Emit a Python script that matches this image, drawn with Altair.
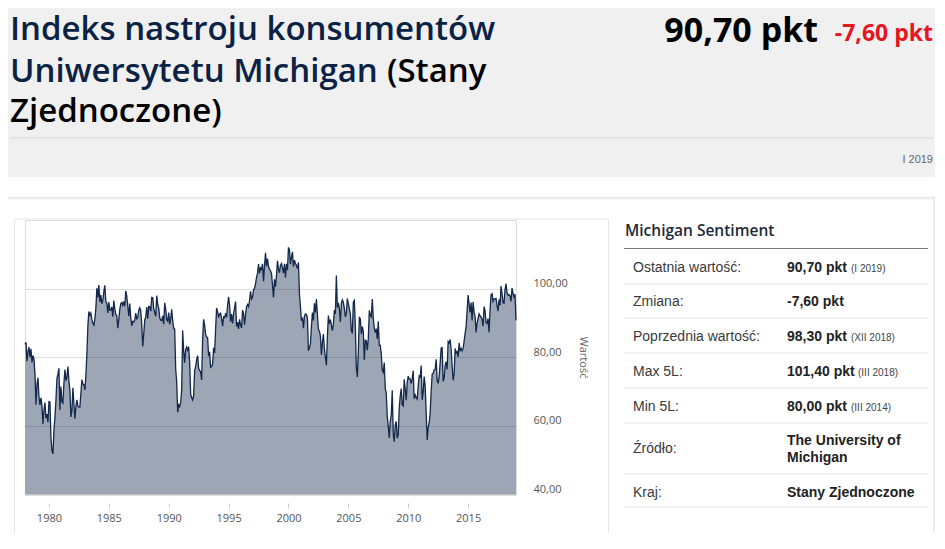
import altair as alt
import pandas as pd

# Monthly values of the University of Michigan consumer sentiment index
start_year = 1978
v1978_1987 = [
    83.7, 84.3, 78.8, 81.6, 82.9, 80.0, 82.4, 78.4, 80.4, 79.3, 75.0, 66.1,
    72.1, 73.9, 68.4, 66.0, 68.1, 65.8, 60.4, 64.5, 66.7, 62.1, 63.3, 61.0,
    67.0, 66.9, 56.5, 52.7, 51.7, 58.7, 62.3, 67.4, 73.7, 75.0, 76.7, 64.5,
    71.4, 66.9, 66.5, 72.4, 76.3, 73.1, 74.1, 77.2, 73.1, 70.3, 62.5, 64.3,
    71.0, 66.5, 62.0, 65.5, 67.5, 65.7, 65.4, 65.4, 69.3, 73.4, 72.1, 71.9,
    70.4, 74.6, 80.8, 89.1, 93.3, 92.2, 92.8, 90.9, 89.9, 89.3, 91.1, 94.2,
    100.1, 97.4, 101.0, 96.1, 98.1, 95.5, 96.6, 99.1, 100.9, 96.3, 95.7, 92.9,
    96.0, 93.7, 93.7, 94.6, 91.8, 96.5, 94.0, 92.4, 92.1, 88.4, 90.9, 93.9,
    95.6, 95.9, 95.1, 96.2, 94.8, 99.3, 97.7, 94.9, 91.9, 95.6, 91.4, 89.1,
    90.4, 90.2, 90.8, 92.8, 91.1, 91.5, 93.7, 94.4, 93.6, 89.3, 83.1, 86.8,
]
v1988_1997 = [
    90.8, 91.6, 94.6, 91.2, 94.8, 94.7, 93.4, 97.4, 97.3, 94.1, 93.0, 91.9,
    97.9, 95.4, 94.3, 91.5, 90.7, 90.6, 92.0, 89.6, 95.8, 93.9, 90.9, 90.5,
    93.0, 89.5, 91.3, 93.9, 90.6, 88.3, 88.2, 76.4, 72.8, 63.9, 66.0, 65.5,
    66.8, 70.4, 87.7, 81.8, 78.3, 82.1, 82.9, 82.0, 83.0, 78.3, 69.1, 68.2,
    67.5, 68.8, 76.0, 77.2, 79.2, 80.4, 76.6, 76.1, 75.6, 73.3, 85.3, 91.0,
    89.3, 86.6, 85.9, 85.6, 80.3, 81.5, 77.0, 77.3, 77.9, 82.7, 81.2, 88.2,
    94.3, 93.2, 91.5, 92.6, 92.8, 91.2, 89.0, 91.7, 91.5, 92.7, 91.6, 95.1,
    97.6, 95.1, 90.3, 92.5, 89.8, 92.7, 94.4, 96.2, 88.9, 90.2, 88.2, 91.0,
    89.3, 88.5, 93.7, 92.7, 89.4, 92.4, 94.7, 95.3, 94.7, 96.5, 99.2, 96.9,
    97.4, 99.7, 100.0, 101.4, 103.2, 104.5, 107.1, 104.4, 106.0, 105.6, 107.2, 102.1,
]
v1998_2007 = [
    106.6, 110.4, 106.5, 108.7, 106.5, 105.6, 105.2, 104.4, 100.9, 97.4, 102.7, 100.5,
    103.9, 108.1, 105.7, 104.6, 106.8, 107.3, 106.0, 104.5, 107.2, 103.2, 107.2, 105.4,
    112.0, 111.3, 107.1, 109.2, 110.7, 106.4, 108.3, 107.3, 106.8, 105.8, 107.6, 98.4,
    94.7, 90.6, 91.5, 88.4, 92.0, 92.6, 92.4, 91.5, 81.8, 82.7, 83.9, 88.8,
    93.0, 90.7, 95.7, 93.0, 96.9, 92.4, 88.1, 87.6, 86.1, 80.6, 84.2, 86.7,
    82.4, 79.9, 77.6, 86.0, 92.1, 89.7, 90.9, 89.3, 87.7, 89.6, 93.7, 92.6,
    103.8, 94.4, 95.8, 94.2, 90.2, 95.6, 96.7, 95.9, 94.2, 91.7, 92.8, 97.1,
    95.5, 94.1, 92.6, 87.7, 86.9, 96.0, 96.5, 89.1, 76.9, 74.2, 81.6, 91.5,
    91.2, 86.7, 88.9, 87.4, 79.1, 84.9, 84.7, 82.0, 85.4, 93.6, 92.1, 91.7,
    96.9, 91.3, 88.4, 87.1, 88.3, 85.3, 90.4, 83.4, 83.4, 80.9, 76.1, 75.5,
]
v2008_2019 = [
    78.4, 70.8, 69.5, 62.6, 59.8, 56.4, 61.2, 63.0, 70.3, 57.6, 55.3, 60.1,
    61.2, 56.3, 57.3, 65.1, 68.7, 70.8, 66.0, 65.7, 73.5, 70.6, 67.4, 72.5,
    74.4, 73.6, 73.6, 72.2, 73.6, 76.0, 67.8, 68.9, 68.2, 67.7, 71.6, 74.5,
    74.2, 77.5, 67.5, 69.8, 74.3, 71.5, 63.7, 55.8, 59.5, 60.8, 63.7, 69.9,
    75.0, 75.3, 76.2, 76.4, 79.3, 73.2, 72.3, 74.3, 78.3, 82.6, 82.7, 72.9,
    73.8, 77.6, 78.6, 76.4, 84.5, 84.1, 85.1, 82.1, 77.5, 73.2, 75.1, 82.5,
    81.2, 81.6, 80.0, 84.1, 81.9, 82.5, 81.8, 82.5, 84.6, 86.9, 88.8, 93.6,
    98.1, 95.4, 93.0, 95.9, 90.7, 96.1, 93.1, 91.9, 87.2, 90.0, 91.3, 92.6,
    92.0, 91.7, 91.0, 89.0, 94.7, 93.5, 90.0, 89.8, 91.2, 87.2, 93.8, 98.2,
    98.5, 96.3, 96.9, 97.0, 97.1, 95.1, 93.4, 96.8, 95.1, 100.7, 98.5, 95.9,
    95.7, 99.7, 101.4, 98.8, 98.0, 98.2, 97.9, 96.2, 100.1, 98.6, 97.5, 98.3,
    90.7,
]

x_ticks = [1980, 1985, 1990, 1995, 2000, 2005, 2010, 2015]
y_ticks = [40, 60, 80, 100]
x_domain = [1978, 2019]
y_domain = [40, 120]
axis_title = "Wartość"

title_line1 = "Indeks nastroju konsumentów"
title_line2 = "Uniwersytetu Michigan"
title_line2b = "(Stany"
title_line3 = "Zjednoczone)"
last_value = "90,70 pkt"
change_value = "-7,60 pkt"
period = "I 2019"

panel_title = "Michigan Sentiment"
row_labels = ["Ostatnia wartość:", "Zmiana:", "Poprzednia wartość:", "Max 5L:",
              "Min 5L:", "Źródło:", "Kraj:"]
row_values = ["90,70 pkt", "-7,60 pkt", "98,30 pkt", "101,40 pkt", "80,00 pkt",
              "The University of\nMichigan", "Stany Zjednoczone"]
row_notes = ["(I 2019)", "", "(XII 2018)", "(III 2018)", "(III 2014)", "", ""]

values = v1978_1987 + v1988_1997 + v1998_2007 + v2008_2019
df = pd.DataFrame({"t": [start_year + i / 12 for i in range(len(values))],
                   "v": values})

ONE = alt.Data(values=[{"a": 1}])
HEAD_FONT = "Open Sans"
TAB_FONT = "Liberation Sans"


def txt(s, x, y, size, color, weight="normal", align="left", font=TAB_FONT,
        baseline="alphabetic"):
    return alt.Chart(ONE).mark_text(
        text=s, align=align, baseline=baseline, fontSize=size, font=font,
        fontWeight=weight, color=color
    ).encode(x=alt.value(x), y=alt.value(y))


def box(x, x2, y, y2, fill, stroke=None):
    kw = {"fill": fill}
    if stroke is not None:
        kw = {"fillOpacity": 0, "stroke": stroke, "strokeWidth": 1}
    return alt.Chart(ONE).mark_rect(**kw).encode(
        x=alt.value(x), x2=alt.value(x2), y=alt.value(y), y2=alt.value(y2))


def hrule(x, x2, y, color, w=1):
    return alt.Chart(ONE).mark_rule(color=color, strokeWidth=w).encode(
        x=alt.value(x), x2=alt.value(x2), y=alt.value(y))


xscale = alt.Scale(domain=x_domain, nice=False, zero=False)
yscale = alt.Scale(domain=y_domain, nice=False, zero=False)

base = alt.Chart(df)
area = base.mark_area(color="#9ca6b4", opacity=1).encode(
    x=alt.X("t:Q", scale=xscale, title=None,
            axis=alt.Axis(values=x_ticks, format="d", offset=9, domain=False,
                          grid=False, tickSize=5, tickColor="#c3cddb",
                          labelFont=HEAD_FONT, labelFontSize=11,
                          labelColor="#555555", labelPadding=4, zindex=1)),
    y=alt.Y("v:Q", scale=yscale,
            axis=alt.Axis(orient="right", values=y_ticks,
                          labelExpr="replace(format(datum.value, '.2f'), '.', ',')",
                          grid=True, gridColor="#000000", gridOpacity=0.13,
                          domain=False, ticks=False, labelPadding=17,
                          labelFont=HEAD_FONT, labelFontSize=11,
                          labelColor="#555555", labelBaseline="alphabetic",
                          labelOffset=-2,
                          title=axis_title, titleX=66, titleY=137, titleAngle=90,
                          titleAlign="center", titleBaseline="middle",
                          titleFont=HEAD_FONT, titleFontSize=11,
                          titleFontWeight="normal", titleColor="#666666",
                          zindex=1)),
    y2=alt.datum(40),
)
line = base.mark_line(color="#13284b", strokeWidth=1.3).encode(
    x=alt.X("t:Q", scale=xscale), y=alt.Y("v:Q", scale=yscale))
bottom = alt.Chart(ONE).mark_rule(color="#dcdcdc", strokeWidth=2).encode(
    x=alt.value(0), x2=alt.value(491), y=alt.value(275))

layers = [
    box(-17, 912, -212, -43, "#f0f0f0"),
    box(-17, 912, -23.3, -20.7, "#ececec"),
    box(908, 912, -23.3, 320, "#ececec"),
    box(-10.5, 583.5, -1, 340, None, stroke="#e6e6e6"),
    area, line, bottom,
    hrule(-15, 908, -82, "#d6d6d6"),
    txt(title_line1, -15, -180, 33, "#0b2245", weight=600, font=HEAD_FONT),
    txt(title_line2, -15, -138, 33, "#0b2245", weight=600, font=HEAD_FONT),
    txt(title_line2b, 362, -138, 33, "#000000", weight=600, font=HEAD_FONT),
    txt(title_line3, -15, -98, 33, "#000000", weight=600, font=HEAD_FONT),
    txt(last_value, 793, -178, 34, "#000000", weight="bold", align="right", font=HEAD_FONT),
    txt(change_value, 908, -179, 23, "#e8141e", weight="bold", align="right", font=HEAD_FONT),
    txt(period, 908, -57, 11, "#666666", align="right"),
    txt(panel_title, 600, 16, 15.5, "#1c2a3a", weight=600, font=HEAD_FONT),
    hrule(599, 903, 28.5, "#7a7a7a"),
]

row_base = [52, 86, 121, 156, 191, 233, 277]
row_rules = [64, 98, 133, 168, 203, 254, 287]
note_x = [826, 826, 826, 833, 826, 826, 826]
for i, lab in enumerate(row_labels):
    layers.append(hrule(599, 903, row_rules[i], "#ececec", 1.5))
    layers.append(txt(lab, 608, row_base[i], 14, "#3a3a3a"))
    parts = row_values[i].split("\n")
    if len(parts) == 1:
        layers.append(txt(parts[0], 762, row_base[i], 14, "#222222", weight="bold"))
    else:
        layers.append(txt(parts[0], 762, 225, 14, "#222222", weight="bold"))
        layers.append(txt(parts[1], 762, 242, 14, "#222222", weight="bold"))
    if row_notes[i]:
        layers.append(txt(row_notes[i], note_x[i], row_base[i], 10, "#444444"))

chart = alt.layer(*layers).properties(
    width=491, height=274,
    padding={"left": 17, "top": 212, "right": 419, "bottom": 39},
    autosize=alt.AutoSizeParams(type="none"),
).configure_view(stroke=None).configure(background="#ffffff")

chart.save("out.html", embed_options={"renderer": "svg", "actions": False})
